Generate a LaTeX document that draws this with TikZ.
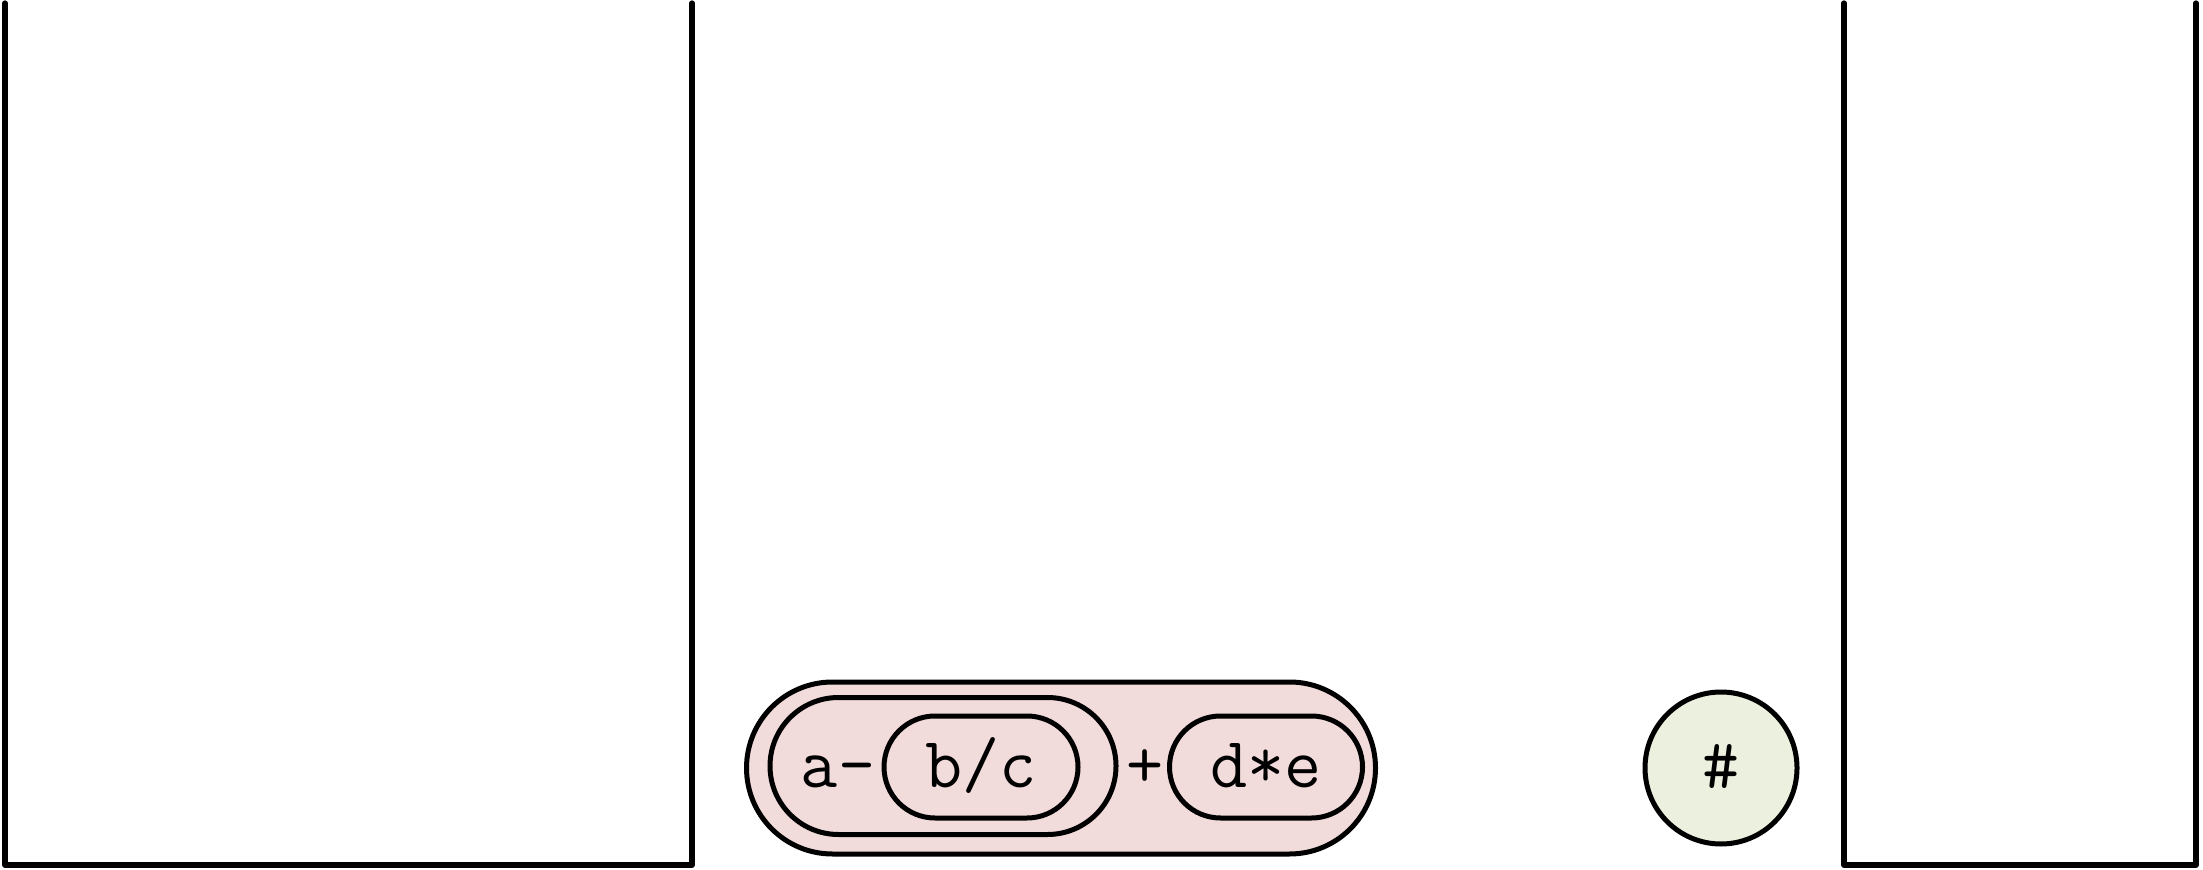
\documentclass[tikz,border=0pt]{standalone}
\usepackage{fontspec}
\usetikzlibrary{positioning}
\definecolor{exprred}{RGB}{242,220,219}
\definecolor{tokgreen}{RGB}{235,241,222}

\begin{document}
\begin{tikzpicture}[
    x=0.5pt, y=-0.5pt,
    stackwall/.style={line width=2.6pt, line cap=round, line join=round},
    code/.style={font=\ttfamily\fontsize{36}{36}\selectfont, text height=24pt, text depth=4pt, inner sep=0pt},
    pill/.style={code, draw, line width=2.5pt, fill=exprred, rectangle},
    token/.style={code, draw, line width=2.5pt, fill=tokgreen, circle, minimum size=76pt}
]
    \useasboundingbox (0,0) rectangle (2203,870);

    % operand and operator stacks
    \draw[stackwall] (5,3) -- (5,865) -- (692,865) -- (692,3);
    \draw[stackwall] (1844,3) -- (1844,865) -- (2196,865) -- (2196,3);

    % nested expression
    \node[pill, minimum width=314.5pt, minimum height=86pt, rounded corners=43pt] (whole) at (1061,768) {};
    \node[pill, minimum width=173pt, minimum height=68.5pt, rounded corners=34.25pt] (left) at (943,766) {};
    \node[pill, minimum width=97pt, minimum height=51pt, rounded corners=25.5pt] (quot) at (981,767) {b/c};
    \node[pill, minimum width=96.5pt, minimum height=51pt, rounded corners=25.5pt] (prod) at (1266,767) {d*e};
    \node[code] (minus) at (838,767) {a-};
    \node[code] (plus) at (1145,767) {+};

    % end marker
    \node[token] (hash) at (1721,768) {\#};
\end{tikzpicture}
\end{document}
